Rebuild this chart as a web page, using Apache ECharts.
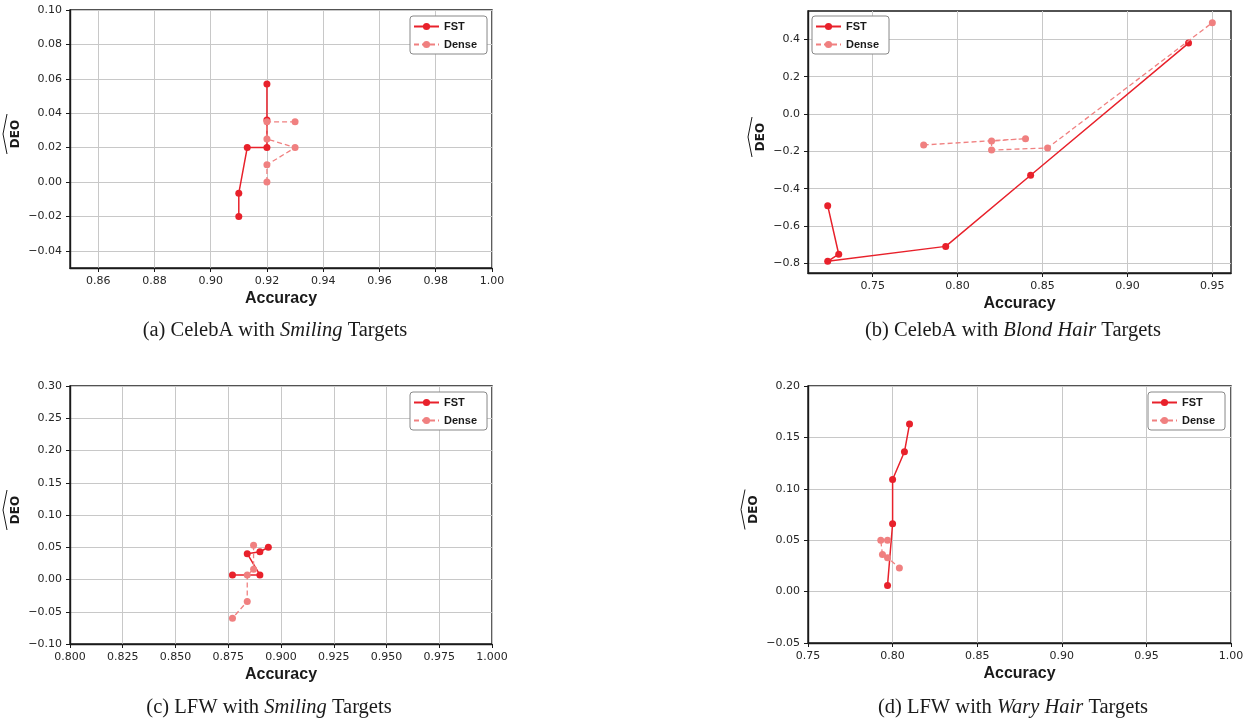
<!DOCTYPE html>
<html>
<head>
<meta charset="utf-8">
<script src="https://cdn.jsdelivr.net/npm/echarts@6/dist/echarts.min.js"></script>
<style>
html, body { margin: 0; padding: 0; background: #fff; }
#chart { width: 1249px; height: 720px; }
</style>
</head>
<body>
<div id="chart"></div>
<script>
// (a) CelebA with Smiling targets
const fstA = [[0.920, 0.057], [0.920, 0.036], [0.920, 0.020], [0.913, 0.020], [0.910, -0.0065], [0.910, -0.020]]
const denseA = [[0.930, 0.035], [0.920, 0.035], [0.920, 0.025], [0.930, 0.020], [0.920, 0.010], [0.920, 0.000]]
// (b) CelebA with Blond Hair targets
const fstB = [[0.7235, -0.491], [0.730, -0.751], [0.7235, -0.789], [0.793, -0.709], [0.843, -0.328], [0.936, 0.380]]
const denseB = [[0.780, -0.166], [0.840, -0.132], [0.820, -0.145], [0.820, -0.193], [0.853, -0.182], [0.950, 0.489]]
// (c) LFW with Smiling targets
const fstC = [[0.877, 0.007], [0.890, 0.007], [0.884, 0.040], [0.890, 0.043], [0.894, 0.050]]
const denseC = [[0.887, 0.053], [0.887, 0.016], [0.884, 0.007], [0.884, -0.034], [0.877, -0.060]]
// (d) LFW with Wary Hair targets
const fstD = [[0.810, 0.163], [0.807, 0.136], [0.800, 0.109], [0.800, 0.066], [0.797, 0.006]]
const denseD = [[0.797, 0.050], [0.793, 0.050], [0.794, 0.036], [0.797, 0.033], [0.804, 0.023]]

// tick values
const ticksAx = [0.86, 0.88, 0.90, 0.92, 0.94, 0.96, 0.98, 1.00]
const ticksAy = [-0.04, -0.02, 0.00, 0.02, 0.04, 0.06, 0.08, 0.10]
const ticksBx = [0.75, 0.80, 0.85, 0.90, 0.95]
const ticksBy = [-0.8, -0.6, -0.4, -0.2, 0.0, 0.2, 0.4]
const ticksCx = [0.800, 0.825, 0.850, 0.875, 0.900, 0.925, 0.950, 0.975, 1.000]
const ticksCy = [-0.10, -0.05, 0.00, 0.05, 0.10, 0.15, 0.20, 0.25, 0.30]
const ticksDx = [0.75, 0.80, 0.85, 0.90, 0.95, 1.00]
const ticksDy = [-0.05, 0.00, 0.05, 0.10, 0.15, 0.20]

const captions = [
    '(a) CelebA with {i|Smiling} Targets',
    '(b) CelebA with {i|Blond Hair} Targets',
    '(c) LFW with {i|Smiling} Targets',
    '(d) LFW with {i|Wary Hair} Targets',
]

const FST_COLOR = '#e8212b'
const DENSE_COLOR = '#f08080'
const INK = '#1a1a1a'

const panels = [
    { fst: fstA, dense: denseA, tx: ticksAx, ty: ticksAy, dx: 2, dy: 2, xMin: 0.85, xMax: 1.00, yMin: -0.05, yMax: 0.10,
      left: 70, top: 10, width: 422, height: 258, gap: 48, legend: [410, 16], caption: [275, 320] },
    { fst: fstB, dense: denseB, tx: ticksBx, ty: ticksBy, dx: 2, dy: 1, xMin: 0.7119, xMax: 0.9610, yMin: -0.8516, yMax: 0.5517,
      left: 808, top: 11, width: 423, height: 262, gap: 41, legend: [812, 16], caption: [1013, 320] },
    { fst: fstC, dense: denseC, tx: ticksCx, ty: ticksCy, dx: 3, dy: 2, xMin: 0.80, xMax: 1.00, yMin: -0.10, yMax: 0.30,
      left: 70, top: 386, width: 422, height: 258, gap: 48, legend: [410, 392], caption: [269, 697] },
    { fst: fstD, dense: denseD, tx: ticksDx, ty: ticksDy, dx: 2, dy: 2, xMin: 0.75, xMax: 1.00, yMin: -0.05, yMax: 0.20,
      left: 808, top: 386, width: 423, height: 257, gap: 48, legend: [1148, 392], caption: [1013, 697] },
]

function fmt(v, d) {
    const s = Math.abs(v).toFixed(d)
    return (v < -1e-9 ? '\u2212' : '') + s
}

const grid = [], xAxis = [], yAxis = [], series = [], legend = [], title = [], graphic = []

panels.forEach((p, i) => {
    grid.push({
        left: p.left, top: p.top, width: p.width, height: p.height,
        show: true, borderColor: INK, borderWidth: 1.4, backgroundColor: 'transparent',
    })
    xAxis.push({
        gridIndex: i, type: 'value', min: p.xMin, max: p.xMax,
        name: 'Accuracy', nameLocation: 'middle', nameGap: 23,
        nameTextStyle: { fontFamily: 'Liberation Sans', fontWeight: 'bold', fontSize: 16, color: INK },
        axisLine: { show: true, onZero: false, lineStyle: { color: INK, width: 1.4 } },
        axisTick: { show: true, length: 4, customValues: p.tx, lineStyle: { color: INK, width: 1 } },
        axisLabel: {
            customValues: p.tx, margin: 8,
            fontFamily: 'DejaVu Sans', fontSize: 11, color: '#262626',
            formatter: v => fmt(v, p.dx),
        },
        splitLine: { show: true, lineStyle: { color: '#c8c8c8', width: 1 } },
    })
    yAxis.push({
        gridIndex: i, type: 'value', min: p.yMin, max: p.yMax,
        name: 'DEO', nameLocation: 'middle', nameGap: p.gap,
        nameTextStyle: { fontFamily: 'DejaVu Sans', fontWeight: 'bold', fontSize: 12, color: INK, padding: [0, 0, 0, 10] },
        axisLine: { show: true, onZero: false, lineStyle: { color: INK, width: 1.4 } },
        axisTick: { show: true, length: 4, customValues: p.ty, lineStyle: { color: INK, width: 1 } },
        axisLabel: {
            customValues: p.ty, margin: 8,
            fontFamily: 'DejaVu Sans', fontSize: 11, color: '#262626',
            formatter: v => fmt(v, p.dy),
        },
        splitLine: { show: true, lineStyle: { color: '#c8c8c8', width: 1 } },
    })
    series.push({
        name: 'FST', type: 'line', xAxisIndex: i, yAxisIndex: i, data: p.fst,
        symbol: 'circle', symbolSize: 7, showSymbol: true,
        lineStyle: { color: FST_COLOR, width: 1.5 },
        itemStyle: { color: FST_COLOR },
        z: 2,
    })
    series.push({
        name: 'Dense', type: 'line', xAxisIndex: i, yAxisIndex: i, data: p.dense,
        symbol: 'circle', symbolSize: 7, showSymbol: true,
        lineStyle: { color: DENSE_COLOR, width: 1.3, type: [5, 3] },
        itemStyle: { color: DENSE_COLOR },
        z: 3,
    })
    legend.push({
        data: ['FST', 'Dense'], orient: 'vertical',
        left: p.legend[0], top: p.legend[1],
        itemWidth: 25, itemHeight: 9, itemGap: 7,
        padding: [5, 10, 4, 3],
        backgroundColor: '#fff', borderColor: '#888', borderWidth: 1, borderRadius: 3,
        selectedMode: false,
        textStyle: { fontFamily: 'Liberation Sans', fontWeight: 'bold', fontSize: 11, color: INK },
    })
    title.push({
        text: captions[i], left: p.caption[0], top: p.caption[1], textAlign: 'center', padding: 0,
        textStyle: {
            fontFamily: 'Liberation Serif', fontWeight: 'normal', fontSize: 20.5, color: INK,
            rich: { i: { fontFamily: 'Liberation Serif', fontStyle: 'italic', fontSize: 20.5, color: INK } },
        },
    })
    // wide hat over the DEO label
    const cy = p.top + p.height / 2 - 5
    const ax = p.left - p.gap
    graphic.push({
        type: 'polyline', silent: true,
        shape: { points: [[ax - 15, cy - 20], [ax - 19, cy], [ax - 15, cy + 20]] },
        style: { stroke: INK, lineWidth: 1, fill: null },
    })
})

const chart = echarts.init(document.getElementById('chart'), null, { renderer: 'canvas' })
chart.setOption({
    animation: false,
    backgroundColor: '#fff',
    grid, xAxis, yAxis, series, legend, title, graphic,
})
</script>
</body>
</html>
